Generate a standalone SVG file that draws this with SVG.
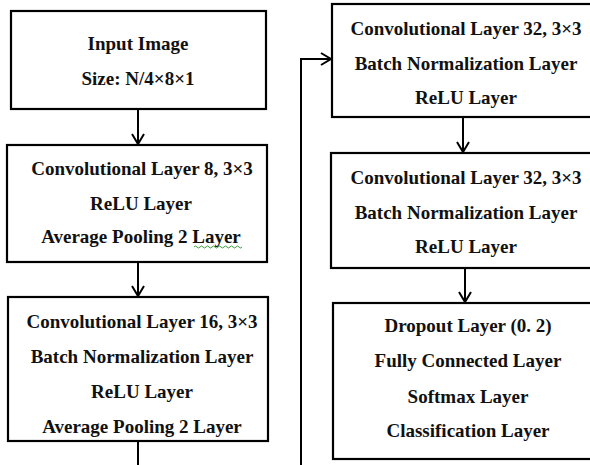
<svg xmlns="http://www.w3.org/2000/svg" width="590" height="465" viewBox="0 0 590 465">
<defs>
<marker id="arr" markerUnits="userSpaceOnUse" markerWidth="14" markerHeight="16" refX="11" refY="7" orient="auto">
<path d="M1,1 L11,7 L1,13" fill="none" stroke="#000" stroke-width="2"/>
</marker>
<style>
.box{fill:#fff;stroke:#000;stroke-width:2.2}
.t{font-family:"Liberation Serif","Times New Roman",serif;font-weight:bold;font-size:19px;fill:#111;text-anchor:middle}
.c{fill:none;stroke:#000;stroke-width:2}
</style>
</defs>
<rect width="590" height="465" fill="#fff"/>
<g id="connectors">
<line class="c" x1="138" y1="109" x2="138" y2="144" marker-end="url(#arr)"/>
<line class="c" x1="138" y1="262" x2="138" y2="296" marker-end="url(#arr)"/>
<line class="c" x1="138" y1="441" x2="138" y2="466"/>
<polyline class="c" points="301,466 301,59 331,59" marker-end="url(#arr)"/>
<line class="c" x1="463" y1="117" x2="463" y2="152" marker-end="url(#arr)"/>
<line class="c" x1="465" y1="268" x2="465" y2="302" marker-end="url(#arr)"/>
</g>
<g id="n1">
<rect class="box" x="11" y="11" width="255" height="98"/>
<text class="t" x="138" y="50">Input Image</text>
<text class="t" x="138" y="85">Size: N/4×8×1</text>
</g>
<g id="n2">
<rect class="box" x="7" y="145" width="260" height="117"/>
<text class="t" x="142" y="175">Convolutional Layer 8, 3×3</text>
<text class="t" x="141" y="210">ReLU Layer</text>
<text class="t" x="141" y="243">Average Pooling 2 Layer</text>
<path d="M194,247 q1.5,-2 3,0 t3,0 t3,0 t3,0 t3,0 t3,0 t3,0 t3,0 t3,0 t3,0 t3,0 t3,0 t3,0 t3,0 t3,0 t3,0" fill="none" stroke="#3a9a3a" stroke-width="1"/>
</g>
<g id="n3">
<rect class="box" x="8" y="297" width="260" height="144"/>
<text class="t" x="142" y="328">Convolutional Layer 16, 3×3</text>
<text class="t" x="142" y="363">Batch Normalization Layer</text>
<text class="t" x="142" y="398">ReLU Layer</text>
<text class="t" x="142" y="433">Average Pooling 2 Layer</text>
</g>
<g id="n4">
<rect class="box" x="332" y="4" width="270" height="113"/>
<text class="t" x="466" y="35">Convolutional Layer 32, 3×3</text>
<text class="t" x="466" y="70">Batch Normalization Layer</text>
<text class="t" x="466" y="104">ReLU Layer</text>
</g>
<g id="n5">
<rect class="box" x="331" y="153" width="270" height="115"/>
<text class="t" x="466" y="184">Convolutional Layer 32, 3×3</text>
<text class="t" x="466" y="219">Batch Normalization Layer</text>
<text class="t" x="466" y="253">ReLU Layer</text>
</g>
<g id="n6">
<rect class="box" x="333" y="303" width="270" height="156"/>
<text class="t" x="468" y="332">Dropout Layer (0. 2)</text>
<text class="t" x="468" y="367">Fully Connected Layer</text>
<text class="t" x="468" y="403">Softmax Layer</text>
<text class="t" x="468" y="437">Classification Layer</text>
</g>
</svg>
